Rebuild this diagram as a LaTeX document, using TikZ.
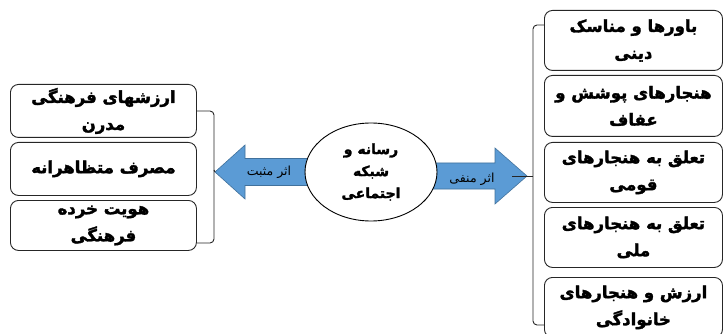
\documentclass[tikz,border=0pt]{standalone}
\usepackage{fontspec}
\usetikzlibrary{shapes.geometric}
\newfontfamily\arabicfont[Script=Arabic, BoldFeatures={FakeBold=2}]{DejaVu Sans}
\TeXXeTstate=1
\newcommand\fa[1]{\beginR #1\endR}
\definecolor{arrblue}{HTML}{5B9BD5}
\definecolor{arrline}{HTML}{41719C}
\tikzset{
  box/.style={draw=black!85, line width=0.9pt, rounded corners=8pt, fill=white,
    anchor=north west, inner sep=0pt, align=center,
    font=\arabicfont\bfseries\fontsize{16.5}{27}\selectfont},
  lbox/.style={box, minimum width=186pt, minimum height=53pt},
  rbox/.style={box, minimum width=178pt, minimum height=60pt},
  ell/.style={ellipse, draw=black, line width=0.9pt, fill=white, minimum width=132pt,
    minimum height=98pt, inner sep=0pt, align=center,
    font=\arabicfont\bfseries\fontsize{14}{22}\selectfont},
  arr/.style={fill=arrblue, draw=arrline, line width=0.6pt},
  arrlabel/.style={font=\arabicfont\fontsize{12.5}{14}\selectfont, inner sep=0pt},
  brk/.style={draw=black!85, line width=0.9pt, rounded corners=4pt}
}
\begin{document}
\begin{tikzpicture}[x=1pt,y=-1pt]
\clip (0,0) rectangle (723,334);
\useasboundingbox (0,0) rectangle (723,334);
% arrows (behind the ellipse)
\coordinate (ltip) at (215,172);
\coordinate (rtip) at (527,176);
\draw[arr] (ltip) -- ++(30,-27) -- ++(0,13.5) -- ++(75,0) -- ++(0,27) -- ++(-75,0) -- ++(0,13.5) -- cycle;
\draw[arr] (rtip) -- ++(-32,-28) -- ++(0,15) -- ++(-75,0) -- ++(0,26) -- ++(75,0) -- ++(0,15) -- cycle;
% centre
\node[ell] (ell) at (371,172) {\fa{رسانه و}\\\fa{شبکه}\\\fa{اجتماعی}};
\node[arrlabel] (lpos) at (269,172) {\fa{اثر مثبت}};
\node[arrlabel] (rneg) at (472,179) {\fa{اثر منفی}};
% left boxes
\node[lbox] (l1) at (10,84) {\fa{ارزشهای فرهنگی}\\\fa{مدرن}};
\node[lbox] (l2) at (10,142) {\fa{مصرف متظاهرانه}};
\node[lbox, minimum height=50pt] (l3) at (10,200) {\fa{هویت خرده}\\\fa{فرهنگی}};
% right boxes
\node[rbox] (r1) at (544,10) {\fa{باورها و مناسک}\\\fa{دینی}};
\node[rbox, minimum height=61pt] (r2) at (544,75) {\fa{هنجارهای پوشش و}\\\fa{عفاف}};
\node[rbox] (r3) at (544,142) {\fa{تعلق به هنجارهای}\\\fa{قومی}};
\node[rbox] (r4) at (544,207) {\fa{تعلق به هنجارهای}\\\fa{ملی}};
\node[rbox] (r5) at (544,277) {\fa{ارزش و هنجارهای}\\\fa{خانوادگی}};
% left bracket
\draw[brk] (l1.east |- 0,111) -- (214,111) -- (214,243) -- (l3.east |- 0,243);
\draw[brk] (214,170) -- (ltip);
% right bracket
\draw[brk] (r1.west |- 0,25) -- (533,25) -- (533,325) -- (r5.west |- 0,325);
\draw[brk] (533,176) -- (512,176);
\end{tikzpicture}
\end{document}
